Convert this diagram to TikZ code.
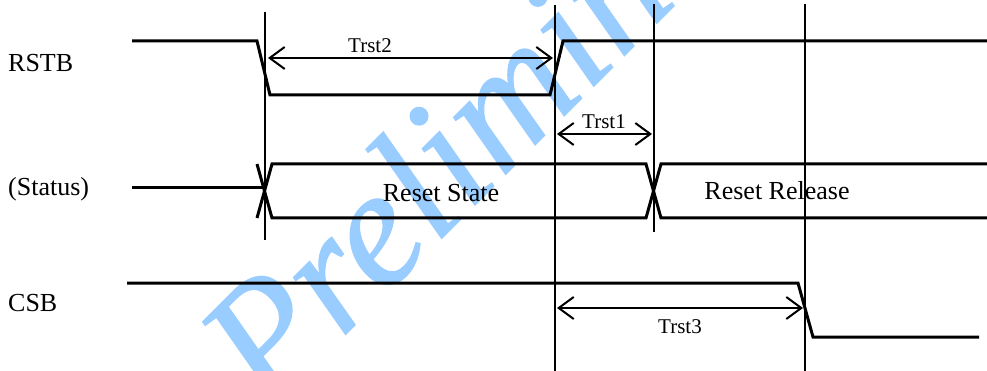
\documentclass[tikz,border=0pt]{standalone}
\usepackage{fontspec}
\setmainfont{Liberation Serif}
\newfontfamily\wmfont[FakeBold=0.7]{Liberation Serif}
\usetikzlibrary{arrows.meta}
\definecolor{wmblue}{RGB}{153,204,255}
\begin{document}
\begin{tikzpicture}[x=1pt,y=-1pt,
  sig/.style={line width=3pt, line join=miter, line cap=butt},
  guide/.style={line width=2pt},
  dimline/.style={line width=2pt, {Straight Barb[length=15pt,width=22pt]}-{Straight Barb[length=15pt,width=22pt]}},
  lbl/.style={font=\fontsize{26}{30}\selectfont, inner sep=0pt},
  tlbl/.style={font=\fontsize{21}{25}\selectfont, inner sep=0pt},
  wmtext/.style={font=\fontsize{168}{175}\wmfont\itshape, text=wmblue, inner sep=0pt}]
\useasboundingbox (0,0) rectangle (987,371);
% watermark
\begin{scope}
  \clip (0,0) rectangle (987,371);
  \node[wmtext, rotate=45, anchor=base west] (wmk) at (268,412) {Preliminary};
\end{scope}
% guide coordinates
\coordinate (v1t) at (265,12);  \coordinate (v1b) at (265,240);
\coordinate (v2t) at (555,5);   \coordinate (v2b) at (555,371);
\coordinate (v3t) at (654,4);   \coordinate (v3b) at (654,232);
\coordinate (v4t) at (805,4);   \coordinate (v4b) at (805,371);
\draw[guide] (v1t) -- (v1b);
\draw[guide] (v2t) -- (v2b);
\draw[guide] (v3t) -- (v3b);
\draw[guide] (v4t) -- (v4b);
% labels
\node[lbl, anchor=west] (rstb) at (8,63) {RSTB};
\node[lbl, anchor=west] (status) at (8,189) {(Status)};
\node[lbl, anchor=west] (csb) at (8,303) {CSB};
% RSTB waveform
\draw[sig] (132,41) -- (257,41) -- (270,95) -- (550,95) -- (563,41) -- (987,41);
% Status bus
\draw[sig] (132,188) -- (265,188);
\draw[sig] (257,218) -- (272,164) -- (646,164) -- (661,218) -- (987,218);
\draw[sig] (257,164) -- (272,218) -- (646,218) -- (661,164) -- (987,164);
\node[lbl] (rs) at (441,193) {Reset State};
\node[lbl] (rr) at (777,191) {Reset Release};
% CSB waveform
\draw[sig] (127,283) -- (798,283) -- (813,337) -- (979,337);
% dimension arrows
\coordinate (a2l) at (268,58); \coordinate (a2r) at (553,58);
\draw[dimline] (a2l) -- (a2r);
\node[tlbl] (t2) at (370,46) {Trst2};
\coordinate (a1l) at (557,134); \coordinate (a1r) at (652,134);
\draw[dimline] (a1l) -- (a1r);
\node[tlbl] (t1) at (604,122) {Trst1};
\coordinate (a3l) at (557,308); \coordinate (a3r) at (803,308);
\draw[dimline] (a3l) -- (a3r);
\node[tlbl] (t3) at (680,327) {Trst3};
\end{tikzpicture}
\end{document}
